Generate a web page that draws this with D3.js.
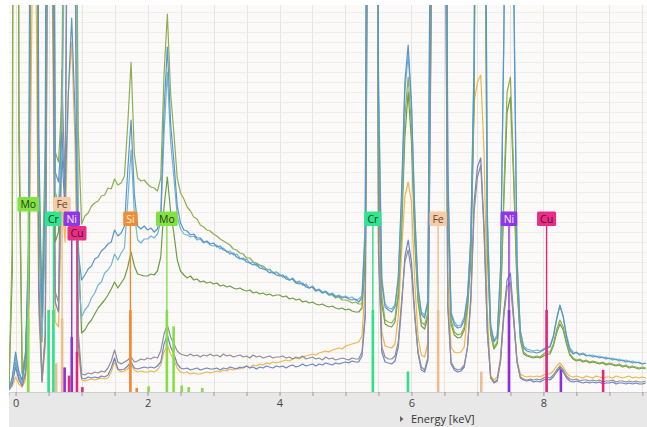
<!DOCTYPE html>
<html>
<head>
<meta charset="utf-8">
<script src="https://cdn.jsdelivr.net/npm/d3@7"></script>
<style>
body{margin:0;background:#fff;}
svg{display:block;font-family:"Open Sans",sans-serif;}
</style>
</head>
<body>
<div id="chart"></div>
<script>
// eje de energia de los espectros: primer canal y ancho de canal en keV
var energiaInicio = -0.10;
var energiaPaso = 0.05;

// cuentas por canal, una fila por keV (la primera fila empieza en -0.10)
var serieOliva = [
	5,150,2500,300,20,40,120,900,1200,200,95,250,1500,1100,240,230,290,700,1300,1700,700,260,
	168,176,179,186,189,191,196,197,204,203,213,207,209,216,268,330,238,214,211,212,
	208,205,204,201,214,318,378,298,258,214,199,193,185,181,175,173,167,165,162,161,
	158,156,153,151,149,147,143,142,139,138,134,134,130,129,127,126,123,122,119,120,
	117,115,115,112,113,109,110,107,107,104,105,101,102,99,100,97,97,94,95,92,
	92,91,89,90,88,88,140,900,3000,1800,250,95,72,70,69,74,100,170,275,315,
	265,160,95,70,67,80,600,2000,4500,3000,1000,200,72,60,57,58,65,90,140,300,
	900,1800,700,150,60,45,50,90,200,300,315,220,110,55,40,37,36,35,36,35,
	38,40,40,48,62,72,65,50,38,34,32,33,31,32,30,31,30,29,30,28,
	29,28,27,28,26,27,25,26,25,24,25,24
];
var serieAzul = [
	3,15,40,20,12,35,160,1200,1500,260,75,200,1300,1000,220,210,260,200,300,374,280,140,
	112,117,123,126,133,135,141,144,148,150,162,156,159,166,222,272,198,166,163,166,
	162,164,160,163,176,282,345,268,230,186,169,162,161,157,158,154,154,150,151,148,
	149,145,146,142,141,138,139,135,133,134,130,129,127,128,124,123,122,119,120,117,
	116,117,113,112,113,109,108,109,105,104,105,101,102,99,100,97,98,95,96,94,
	95,93,92,93,90,94,160,1000,3500,2000,300,110,85,82,80,85,115,200,310,347,
	290,180,105,78,74,90,650,2200,4800,3200,1100,220,78,67,64,65,72,95,150,330,
	1000,2000,800,170,65,50,55,120,350,700,800,400,130,60,44,41,40,40,39,40,
	42,44,45,55,72,87,75,55,42,38,40,37,38,36,37,35,36,34,35,33,
	34,32,33,31,32,30,31,29,30,29,28,29
];
var serieCeleste = [
	3,12,35,18,10,30,140,1100,1400,240,55,150,1200,900,200,190,240,500,900,1200,600,120,
	75,82,86,94,99,107,110,119,122,127,138,132,139,144,190,242,178,152,149,153,
	153,156,154,158,170,258,320,250,214,176,163,158,157,155,156,152,153,149,150,147,
	146,147,143,144,140,141,137,138,134,132,133,129,130,126,127,124,122,123,119,120,
	118,115,116,112,114,110,111,107,108,104,106,102,103,100,101,98,99,96,97,95,
	96,94,95,92,93,96,170,1100,3600,2100,320,115,88,84,83,87,112,190,300,337,
	285,175,102,80,77,92,680,2300,5000,3300,1150,230,80,70,66,67,75,98,155,340,
	1050,2100,850,180,68,52,57,125,360,720,820,420,135,62,46,43,42,41,42,41,
	43,45,46,56,74,86,76,57,44,40,39,38,39,37,36,37,35,36,34,35,
	33,34,32,33,31,32,30,31,29,30,28,29
];
var serieVerde = [
	4,120,2000,250,18,35,110,800,1000,180,50,200,1000,800,150,160,250,650,1200,1400,650,150,
	59,62,68,72,78,84,88,92,97,103,110,104,109,114,125,140,126,118,117,116,
	116,118,117,121,135,185,215,180,158,132,121,117,114,116,112,113,110,111,109,110,
	108,109,106,107,105,106,104,103,104,102,101,102,99,100,98,99,97,98,96,97,
	97,95,96,93,94,92,93,90,91,89,90,88,87,88,86,85,86,84,83,84,
	82,83,81,80,80,84,130,850,2800,1700,230,88,68,66,65,70,95,160,255,300,
	250,150,90,66,63,75,560,1900,4200,2800,950,190,68,57,54,55,62,85,130,290,
	850,1700,650,140,58,43,48,85,190,280,295,210,105,52,38,36,35,34,35,34,
	36,38,38,46,59,68,62,48,37,33,31,32,30,31,29,30,29,28,29,27,
	28,27,26,27,25,26,24,25,24,23,24,23
];
var serieGris = [
	3,10,30,15,8,20,100,900,1100,120,12,60,800,600,100,90,322,200,700,900,500,60,
	18,17,19,18,20,19,21,20,24,31,42,30,28,30,32,35,30,31,33,32,
	34,33,35,34,41,58,67,55,48,41,38,37,36,38,36,37,35,37,36,38,
	36,37,35,38,36,37,35,36,37,35,36,34,37,35,36,34,35,36,34,35,
	35,36,34,35,33,35,34,36,33,34,35,33,34,32,35,33,34,32,33,34,
	33,32,34,33,33,40,80,700,2500,1500,150,45,35,33,33,36,50,90,130,142,
	120,75,40,25,22,35,400,1600,3800,2500,700,90,30,24,22,23,27,45,90,180,
	215,227,160,60,15,10,12,30,75,105,110,70,30,15,13,12,13,12,13,12,
	14,15,14,17,22,26,22,16,13,12,13,11,12,12,11,12,11,12,10,11,
	11,12,10,11,11,10,11,10,11,10,10,11
];
var serieIndigo = [
	2,8,25,12,6,18,90,800,1000,100,10,55,700,550,90,80,240,180,650,1000,450,50,
	14,13,15,14,15,14,16,15,17,24,34,23,22,23,26,30,24,23,24,25,
	24,25,24,26,30,48,57,45,38,28,24,23,24,22,23,24,22,23,24,23,
	23,24,22,24,23,25,24,23,25,24,26,24,25,23,25,24,26,25,24,26,
	25,26,24,26,27,25,26,28,26,27,28,26,28,27,29,28,27,29,28,29,
	30,29,31,30,30,36,75,650,2300,1400,140,40,30,29,28,31,45,85,135,152,
	130,78,38,22,20,32,380,1500,3600,2400,650,85,28,22,20,21,25,45,95,190,
	225,234,165,60,14,9,11,32,80,112,119,75,30,14,12,11,12,10,11,10,
	12,13,12,15,20,24,20,14,11,10,11,10,9,10,9,10,9,10,8,9,
	9,10,8,9,9,8,9,8,9,8,8,9
];
var serieNaranja = [
	2,6,15,8,5,12,60,400,500,80,10,45,600,450,70,65,190,150,300,350,250,40,
	12,11,12,13,12,13,14,13,14,20,30,22,20,21,23,27,22,20,21,20,
	20,21,20,22,27,40,47,38,32,24,20,19,20,18,19,18,18,19,20,19,
	20,21,20,22,21,23,22,24,23,25,26,24,27,26,28,27,29,28,30,29,
	30,31,32,31,33,34,33,35,36,37,38,37,39,40,41,40,42,43,44,43,
	46,47,48,49,50,56,110,800,2700,1600,200,60,46,45,44,48,75,140,195,210,
	190,110,55,37,35,50,500,1800,4000,2700,850,120,45,40,39,40,45,80,160,290,
	310,317,240,80,16,12,15,35,80,105,109,72,32,18,16,15,16,15,16,15,
	17,18,18,21,26,29,25,19,16,15,16,15,14,16,15,14,16,15,14,15,
	15,14,16,15,14,15,16,14,15,14,15,14
];

// etiquetas de elementos (linea marcada)
var etiquetaElemento = ['Mo','Cr','Fe','Ni','Cu','Si','Mo','Cr','Fe','Ni','Cu'];
var etiquetaEnergia  = [0.192,0.573,0.705,0.851,0.930,1.740,2.293,5.415,6.404,7.478,8.048];

// lineas de emision de cada elemento (intensidad relativa a la linea principal)
var lineaElemento = ['Mo','Cr','Cr','Fe','Fe','Ni','Ni','Cu','Cu','Cu','Si','Si','Mo','Mo','Mo','Mo','Mo','Mo','Cr','Cr','Fe','Fe','Ni','Ni','Cu','Cu'];
var lineaEnergia  = [0.192,0.500,0.573,0.615,0.705,0.743,0.851,0.811,0.930,1.012,1.740,1.836,2.016,2.293,2.395,2.518,2.623,2.830,5.415,5.947,6.404,7.058,7.478,8.265,8.048,8.905];
var lineaIntensidad = [0.9,1.0,1.0,0.35,0.9,0.3,0.67,0.2,0.49,0.06,1.0,0.05,0.07,1.0,0.8,0.08,0.06,0.05,1.0,0.25,1.0,0.25,1.0,0.27,1.0,0.27];

var ticksEnergia = [0,2,4,6,8];
var tituloEje = 'Energy [keV]';

dibujarEspectro();

function dibujarEspectro(){
	var ancho = 647, alto = 427;
	var izq = 9, der = 647, arriba = 5, abajo = 392;

	var x = d3.scaleLinear().domain([-0.1, 9.57]).range([izq, der]);
	var y = d3.scaleLinear().domain([0, 387]).range([abajo, arriba]);
	var yBarra = d3.scaleLinear().domain([0, 1]).range([0, 82]);	// alto de las barras de lineas

	// colores de cada elemento: fondo etiqueta, linea, texto
	var colorElemento = {
		'Mo': {fondo:'#82e244', linea:'#84de48', texto:'#2b3a1c'},
		'Cr': {fondo:'#2fe58e', linea:'#2ee08a', texto:'#173a28'},
		'Fe': {fondo:'#f6cba6', linea:'#efbd92', texto:'#5a4838'},
		'Ni': {fondo:'#9036e6', linea:'#8e2ee0', texto:'#f4ecff'},
		'Cu': {fondo:'#ec2c86', linea:'#e4267c', texto:'#48122a'},
		'Si': {fondo:'#f28c34', linea:'#f08a32', texto:'#fff2e4'}
	};
	var filaEtiqueta = [0,1,0,1,2,1,1,1,1,1,1];	// fila de cada etiqueta para que no se pisen

	var svg = d3.select('#chart').append('svg')
		.attr('width', ancho)
		.attr('height', alto);

	svg.append('rect').attr('width', ancho).attr('height', alto).attr('fill', '#ffffff');
	svg.append('rect')		// fondo del area de grafico
		.attr('x', izq).attr('y', arriba)
		.attr('width', der - izq).attr('height', abajo - arriba)
		.attr('fill', '#fbfaf8');
	svg.append('rect')		// banda gris del eje
		.attr('x', izq).attr('y', abajo)
		.attr('width', der - izq).attr('height', alto - abajo)
		.attr('fill', '#e8e8e8');

	// rejilla
	svg.append('g').selectAll('line')
		.data(d3.range(10, 387, 10))
		.enter().append('line')
		.attr('x1', izq).attr('x2', der)
		.attr('y1', function(d){ return Math.round(y(d)) + 0.5; })
		.attr('y2', function(d){ return Math.round(y(d)) + 0.5; })
		.attr('stroke', '#efedea');
	svg.append('g').selectAll('line')
		.data(d3.range(0, 9.6, 0.5))
		.enter().append('line')
		.attr('x1', function(d){ return Math.round(x(d)) + 0.5; })
		.attr('x2', function(d){ return Math.round(x(d)) + 0.5; })
		.attr('y1', arriba).attr('y2', abajo)
		.attr('stroke', '#e8e5e1');

	svg.append('clipPath').attr('id', 'recorte')
		.append('rect')
		.attr('x', izq).attr('y', arriba)
		.attr('width', der - izq).attr('height', abajo - arriba);

	var series = [
		{datos: serieNaranja, color: '#f1b54a'},
		{datos: serieIndigo,  color: '#6e84c6'},
		{datos: serieGris,    color: '#8e8e9c'},
		{datos: serieVerde,   color: '#6d9e46'},
		{datos: serieOliva,   color: '#8fae50'},
		{datos: serieCeleste, color: '#72b6d6'},
		{datos: serieAzul,    color: '#5a96c8'}
	];

	var linea = d3.line()
		.x(function(d, i){ return x(energiaInicio + i * energiaPaso); })
		.y(function(d){ return y(d); });

	var gSeries = svg.append('g').attr('clip-path', 'url(#recorte)');
	gSeries.selectAll('path')
		.data(series)
		.enter().append('path')
		.attr('d', function(s){ return linea(s.datos); })
		.attr('fill', 'none')
		.attr('stroke', function(s){ return s.color; })
		.attr('stroke-width', 1.2)
		.attr('stroke-linejoin', 'round');

	// barras de las lineas de emision
	var gLineas = svg.append('g').attr('clip-path', 'url(#recorte)');
	gLineas.selectAll('line')
		.data(lineaEnergia)
		.enter().append('line')
		.attr('x1', function(d){ return x(d); })
		.attr('x2', function(d){ return x(d); })
		.attr('y1', abajo)
		.attr('y2', function(d, i){ return abajo - yBarra(lineaIntensidad[i]); })
		.attr('stroke', function(d, i){ return colorElemento[lineaElemento[i]].linea; })
		.attr('stroke-width', 2.6);

	// etiquetas con su linea hasta la base
	var altoEtiqueta = 14.5;
	etiquetaEnergia.forEach(function(e, i){
		var el = etiquetaElemento[i];
		var c = colorElemento[el];
		var cx = x(e);
		var top = 197 + filaEtiqueta[i] * altoEtiqueta;

		svg.append('line')
			.attr('x1', cx).attr('x2', cx)
			.attr('y1', top + altoEtiqueta).attr('y2', abajo)
			.attr('stroke', c.linea)
			.attr('stroke-width', 1.4);

		var g = svg.append('g');
		var rect = g.append('rect');
		var txt = g.append('text')
			.attr('x', cx)
			.attr('y', top + 11)
			.attr('text-anchor', 'middle')
			.attr('font-size', '10.5px')
			.attr('fill', c.texto)
			.text(el);
		var w = txt.node().getComputedTextLength() + 6;
		rect.attr('x', cx - w / 2).attr('y', top)
			.attr('width', w).attr('height', altoEtiqueta)
			.attr('rx', 1.5)
			.attr('fill', c.fondo);
	});

	// eje x
	var eje = d3.axisBottom(x)
		.tickValues(d3.range(0, 9.6, 0.5))
		.tickSize(4)
		.tickPadding(3)
		.tickFormat(function(d){ return ticksEnergia.indexOf(d) >= 0 ? d : ''; });
	var gEje = svg.append('g')
		.attr('transform', 'translate(0,' + abajo + ')')
		.call(eje);
	gEje.select('.domain').attr('stroke', '#cfcfcf');
	gEje.selectAll('.tick line').attr('stroke', '#9a9a9a');
	gEje.selectAll('.tick text')
		.attr('fill', '#444')
		.style('font-size', '11px')
		.style('font-family', '"Open Sans",sans-serif');

	// titulo del eje con el triangulito
	svg.append('path')
		.attr('d', 'M400,416 L403.5,419 L400,422 Z')
		.attr('fill', '#666');
	svg.append('text')
		.attr('x', 411)
		.attr('y', 423)
		.attr('font-size', '11px')
		.attr('fill', '#333')
		.text(tituloEje);
}
</script>
</body>
</html>
